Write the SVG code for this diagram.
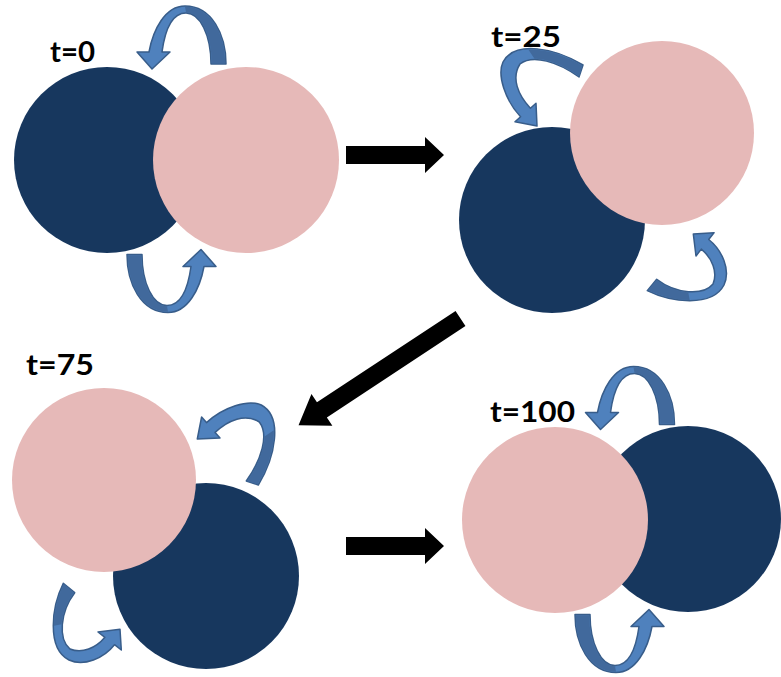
<svg xmlns="http://www.w3.org/2000/svg" width="781" height="677" viewBox="0 0 781 677">
<style>
.dark{fill:#17375E}
.pink{fill:#E6B9B8}
.lbl{font-family:Lato,"Open Sans","Liberation Sans",sans-serif;font-weight:bold;font-size:29px;fill:#000}
.ra{fill:#4F81BD;stroke:#385D8A;stroke-width:1.5;stroke-linejoin:round}
.rd{fill:#41699C}
.big{fill:#000}
</style>
<defs>
<g id="arrA">
<path class="ra" d="M44.5 27 C44.5 -2 30.5 -31 3.5 -31 C-16.5 -31 -28.5 -7 -32.5 15 L-44.5 15 L-29.5 32 L-11.5 15 L-19.5 15 C-16.5 -7 -9.5 -24 4.5 -24 C18.5 -24 29.5 -2 29.5 27 Z"/>
<path class="rd" d="M43.7 26.2 C43.7 -2 30 -30.2 3.5 -30.2 L4.5 -24.8 C19 -24.8 30.3 -2 30.3 26.2 Z"/>
</g>
<g id="arrB">
<path class="ra" d="M41.5 -22.5 C13.5 -39.5 -26.5 -47.5 -38.5 -25.5 C-44.5 -12.5 -36.5 12.5 -20.9 29.3 L-26.5 34.2 L-4.5 38.5 L-5.5 15.8 L-11.1 20.7 C-23.5 7.5 -30.5 -9.5 -21.5 -23.5 C-8.5 -33.5 16.5 -25.5 37.5 -10.5 Z"/>
<path class="rd" d="M40.8 -21.8 C24.7 -32 3.58 -38.9 -13.2 -38 L-7 -28.7 C6.14 -28.8 22.8 -21.7 37.8 -11.3 Z"/>
</g>
<g id="arrC">
<path class="ra" d="M-39.7 23.7 C-17 35 25 41 37 18 C44 3 35 -17 21.7 -27.5 L27 -34.3 L6.3 -33 L9 -11 L14.3 -17.9 C25 -9 31 5 26 17 C16 29 -11 27 -30.3 12.3 Z"/>
<path class="rd" d="M-38.9 23.1 C-28.35 28.6 -12.2 33 2.7 33 L1.3 25.4 C-9.1 24.5 -20.65 20.3 -30.4 13.1 Z"/>
</g>
</defs>
<rect width="781" height="677" fill="#fff"/>

<g id="t0">
<g id="t0-dark"><circle class="dark" cx="107" cy="160" r="93"/></g>
<g id="t0-pink"><circle class="pink" cx="246" cy="160" r="93"/></g>
<g id="t0-label"><text class="lbl" x="50" y="62" textLength="45" lengthAdjust="spacingAndGlyphs">t=0</text></g>
<g id="t0-rot">
<use href="#arrA" transform="translate(181.5,37)"/>
<use href="#arrA" transform="translate(171.5,281.5) rotate(180)"/>
</g>
</g>

<g id="t25">
<g id="t25-dark"><circle class="dark" cx="552" cy="220" r="93"/></g>
<g id="t25-pink"><circle class="pink" cx="662" cy="133" r="92"/></g>
<g id="t25-label"><text class="lbl" x="491" y="47" textLength="70" lengthAdjust="spacingAndGlyphs">t=25</text></g>
<g id="t25-rot">
<use href="#arrB" transform="translate(541.5,87.5)"/>
<use href="#arrC" transform="translate(687,267)"/>
</g>
</g>

<g id="t75">
<g id="t75-dark"><circle class="dark" cx="206" cy="576" r="93"/></g>
<g id="t75-pink"><circle class="pink" cx="104" cy="480" r="92"/></g>
<g id="t75-label"><text class="lbl" x="26" y="375" textLength="68" lengthAdjust="spacingAndGlyphs">t=75</text></g>
<g id="t75-rot">
<use href="#arrB" transform="translate(235.8,443.5) rotate(90)"/>
<use href="#arrC" transform="translate(87,623) rotate(90)"/>
</g>
</g>

<g id="t100">
<g id="t100-dark"><circle class="dark" cx="688" cy="519" r="93"/></g>
<g id="t100-pink"><circle class="pink" cx="555" cy="520" r="93"/></g>
<g id="t100-label"><text class="lbl" x="490" y="422" textLength="85" lengthAdjust="spacingAndGlyphs">t=100</text></g>
<g id="t100-rot">
<use href="#arrA" transform="translate(630,397.5)"/>
<use href="#arrA" transform="translate(619.5,641.5) rotate(180)"/>
</g>
</g>

<g id="connectors">
<polygon class="big" points="346,146 425,146 425,137 444,155 425,173 425,164 346,164"/>
<polygon class="big" transform="translate(460.5,318.5) rotate(146.6)" points="0,-9 166,-9 166,-19 194,0 166,19 166,9 0,9"/>
<polygon class="big" points="346,537 425,537 425,528 444,546 425,564 425,555 346,555"/>
</g>
</svg>
